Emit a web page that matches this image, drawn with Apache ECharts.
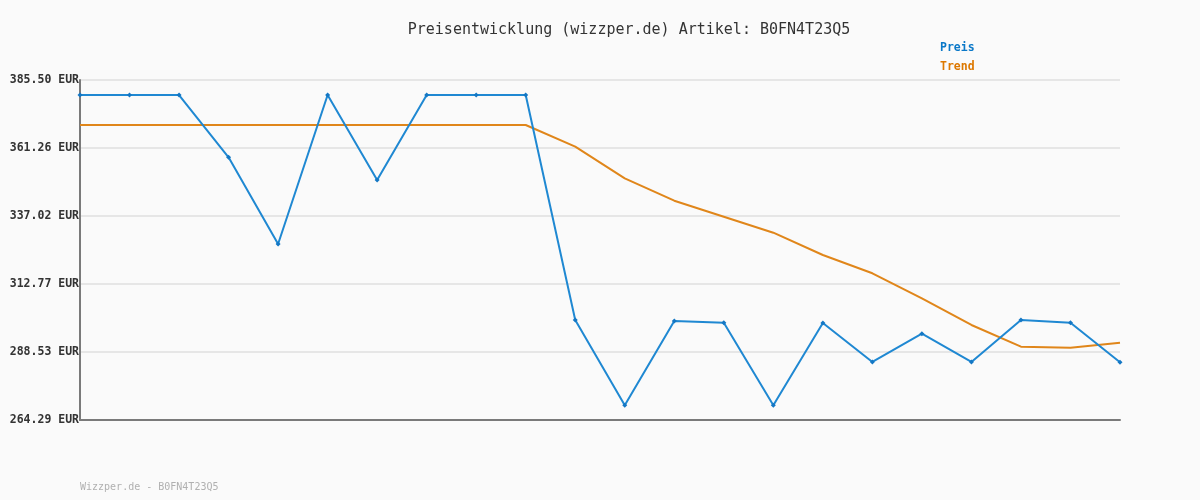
<!DOCTYPE html>
<html>
<head>
<meta charset="utf-8">
<script src="https://cdn.jsdelivr.net/npm/echarts@6/dist/echarts.min.js"></script>
<style>
html,body{margin:0;padding:0;background:#fafafa;}
#chart{width:1200px;height:500px;}
</style>
</head>
<body>
<div id="chart"></div>
<script>
var categories = ['1','2','3','4','5','6','7','8','9','10','11','12','13','14','15','16','17','18','19','20','21','22'];
var preis = [380.15,380.15,380.15,357.94,327.03,380.15,349.85,380.15,380.15,380.15,299.94,269.53,299.58,298.98,269.53,298.87,284.97,295.06,284.97,299.94,298.98,284.86];
var trend = [369.46,369.46,369.46,369.46,369.46,369.46,369.46,369.46,369.46,369.46,361.72,350.46,342.47,336.77,331.06,323.11,316.59,307.68,298.16,290.42,290.06,291.85];
var yTicks = [264.29,288.53,312.77,337.02,361.26,385.50];
var titleText = 'Preisentwicklung (wizzper.de) Artikel: B0FN4T23Q5';
var footerText = 'Wizzper.de - B0FN4T23Q5';

var mono = '"DejaVu Sans Mono", "Liberation Mono", monospace';
var chart = echarts.init(document.getElementById('chart'), null, {renderer:'canvas'});
chart.setOption({
  backgroundColor: '#fafafa',
  animation: false,
  title: {
    text: titleText,
    left: 624, top: 18, textAlign: 'center',
    textStyle: {fontFamily: mono, fontSize: 15, fontWeight: 'normal', color: '#333'}
  },
  legend: {
    orient: 'vertical', left: 935, top: 37, itemGap: 7,
    itemWidth: 0, itemHeight: 0, icon: 'rect',
    data: [
      {name: 'Preis', textStyle: {color: '#0a78c8'}},
      {name: 'Trend', textStyle: {color: '#dd7800'}}
    ],
    textStyle: {fontFamily: mono, fontSize: 11.5, fontWeight: 'bold', padding: [0,0,0,-5]}
  },
  graphic: [{
    type: 'text', left: 80, top: 482,
    style: {text: footerText, font: '10px ' + mono, fill: '#b0b0b0'}
  }],
  grid: {left: 80, right: 80, top: 80, bottom: 80, containLabel: false},
  xAxis: {
    type: 'category', data: categories, boundaryGap: false,
    axisLine: {show: true, onZero: false, lineStyle: {color: '#7a7a7a', width: 2}},
    axisTick: {show: false}, axisLabel: {show: false}, splitLine: {show: false}
  },
  yAxis: {
    type: 'value', min: yTicks[0], max: yTicks[yTicks.length-1],
    axisLine: {show: true, lineStyle: {color: '#7a7a7a', width: 2}},
    axisTick: {show: false, customValues: yTicks},
    axisLabel: {
      customValues: yTicks, margin: 1,
      formatter: function(v){ return v.toFixed(2) + ' EUR'; },
      fontFamily: mono, fontSize: 11.5, fontWeight: 'bold', color: '#333'
    },
    splitLine: {show: true, lineStyle: {color: '#e6e6e6', width: 2}}
  },
  series: [
    {
      name: 'Trend', type: 'line', data: trend, symbol: 'none', smooth: false,
      lineStyle: {color: '#e0861a', width: 2}, itemStyle: {color: '#e0861a'}, z: 2
    },
    {
      name: 'Preis', type: 'line', data: preis, symbol: 'diamond', symbolSize: 5, showSymbol: true,
      lineStyle: {color: '#1f88d2', width: 2}, itemStyle: {color: '#1477c4'}, z: 3
    }
  ]
});
</script>
</body>
</html>
